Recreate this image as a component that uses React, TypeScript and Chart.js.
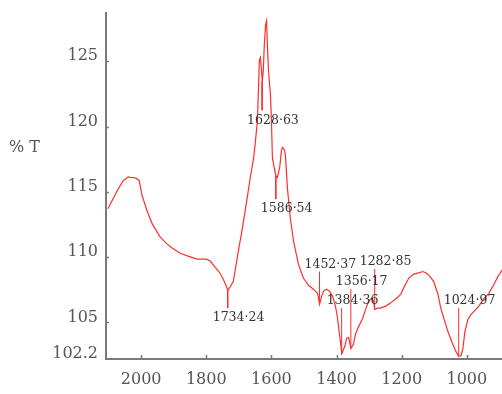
import React, { useEffect, useRef } from "react";
import { Chart, registerables } from "chart.js";

Chart.register(...registerables);

// IR spectrum (wavenumber, %T)
const wavenumbers = [
  2102, 2086, 2071, 2055, 2040, 2031, 2022, 2012, 2006, 1997, 1982, 1966, 1942, 1920, 1905, 1880, 1858, 1828, 1800, 1788,
  1772, 1757, 1748, 1738, 1734, 1726, 1717, 1708, 1699, 1692, 1683, 1674, 1665, 1655, 1649, 1643, 1640, 1637, 1634, 1631,
  1628, 1625, 1622, 1618, 1615, 1612, 1609, 1603, 1600, 1597, 1591, 1586, 1582, 1575, 1569, 1566, 1560, 1557, 1551, 1542,
  1532, 1517, 1502, 1486, 1474, 1465, 1458, 1452, 1446, 1440, 1431, 1422, 1412, 1403, 1397, 1388, 1384, 1375, 1369, 1363,
  1360, 1356, 1348, 1342, 1332, 1320, 1311, 1302, 1292, 1286, 1283, 1274, 1265, 1249, 1234, 1218, 1203, 1191, 1178, 1163,
  1148, 1135, 1126, 1114, 1102, 1089, 1080, 1068, 1058, 1046, 1034, 1025, 1018, 1012, 1006, 997, 988, 978, 963, 948,
  932, 917, 905, 889,
];
const transmittance = [
  113.7, 114.5, 115.2, 115.85, 116.15, 116.1, 116.1, 116.0, 115.85, 114.7, 113.55, 112.55, 111.55, 111.0, 110.7, 110.3, 110.1, 109.85, 109.85, 109.7,
  109.2, 108.75, 108.3, 107.75, 107.45, 107.75, 108.15, 109.5, 110.85, 111.8, 113.2, 114.6, 116.1, 117.55, 118.9, 120.5, 122.8, 125.1, 125.3, 124.5,
  123.5, 124.3, 126.2, 127.8, 128.1, 126.0, 124.3, 122.4, 120.5, 117.6, 116.8, 116.2, 116.1, 116.8, 118.2, 118.4, 118.2, 117.8, 115.3, 113.0,
  111.2, 109.45, 108.4, 107.85, 107.6, 107.4, 107.2, 106.4, 107.0, 107.4, 107.55, 107.4, 107.0, 106.2, 105.3, 103.5, 102.6, 103.15, 103.8, 103.85,
  103.5, 103.0, 103.35, 104.1, 104.7, 105.3, 106.0, 106.6, 106.85, 106.6, 106.0, 106.1, 106.1, 106.25, 106.5, 106.8, 107.15, 107.8, 108.4, 108.7,
  108.8, 108.9, 108.8, 108.55, 108.15, 107.2, 106.1, 105.1, 104.3, 103.5, 102.8, 102.4, 102.45, 103.0, 104.3, 105.2, 105.6, 105.85, 106.25, 106.8,
  107.25, 107.9, 108.5, 109.1,
];

// Peak annotations
const peakLabels = ["1734·24", "1628·63", "1586·54", "1452·37", "1282·85", "1356·17", "1384·36", "1024·97"];
const peakPositions = [1734.24, 1628.63, 1586.54, 1452.37, 1282.85, 1356.17, 1384.36, 1024.97];
const peakCurveValues = [107.45, 123.5, 116.2, 106.4, 106.0, 103.0, 102.6, 102.4];
const peakTipValues = [106.1, 121.25, 114.45, 108.9, 109.1, 107.55, 106.1, 106.1];

// Axes
const yTickValues = [102.2, 105, 110, 115, 120, 125];
const yTickLabels = ["102.2", "105", "110", "115", "120", "125"];
const xTickValues = [1000, 1200, 1400, 1600, 1800, 2000];
const yAxisTitle = "% T";

const AXIS_COLOR = "#7a7a7a";
const TEXT_COLOR = "#555";
const LINE_COLOR = "rgb(255,45,45)";

export default function App() {
  const canvasRef = useRef<HTMLCanvasElement | null>(null);

  useEffect(() => {
    const canvas = canvasRef.current;
    if (!canvas) return;

    const spectrum = wavenumbers.map((x, i) => ({ x, y: transmittance[i] }));
    const markerSets = peakPositions.map((p, i) => ({
      data: [
        { x: p, y: peakCurveValues[i] },
        { x: p, y: peakTipValues[i] },
      ],
      borderColor: LINE_COLOR,
      borderWidth: 1,
      pointRadius: 0,
      tension: 0,
    }));

    const decorPlugin = {
      id: "decor",
      afterDraw(chart: any) {
        const ctx = chart.ctx;
        const xs = chart.scales.x;
        const ys = chart.scales.y;
        const area = chart.chartArea;
        ctx.save();
        // inner tick marks
        ctx.strokeStyle = AXIS_COLOR;
        ctx.lineWidth = 1.5;
        yTickValues.forEach((v) => {
          if (v === yTickValues[0]) return;
          const py = Math.round(ys.getPixelForValue(v)) + 0.5;
          ctx.beginPath();
          ctx.moveTo(area.left, py);
          ctx.lineTo(area.left + 3, py);
          ctx.stroke();
        });
        xTickValues.forEach((v) => {
          const px = Math.round(xs.getPixelForValue(v)) + 0.5;
          ctx.beginPath();
          ctx.moveTo(px, area.bottom);
          ctx.lineTo(px, area.bottom - 4);
          ctx.stroke();
        });
        // y tick labels (sit slightly above their tick marks)
        ctx.fillStyle = TEXT_COLOR;
        ctx.font = "16px 'DejaVu Serif'";
        ctx.textAlign = "right";
        ctx.textBaseline = "middle";
        yTickValues.forEach((v, i) => {
          ctx.fillText(yTickLabels[i], area.left - 8, ys.getPixelForValue(v) - 5);
        });
        // peak labels
        ctx.fillStyle = "#333";
        ctx.font = "12.5px 'DejaVu Serif'";
        ctx.textAlign = "left";
        ctx.textBaseline = "middle";
        peakLabels.forEach((t, i) => {
          const px = xs.getPixelForValue(peakPositions[i]);
          const tipY = ys.getPixelForValue(peakTipValues[i]);
          const isDip = peakTipValues[i] > peakCurveValues[i];
          const ty = isDip ? tipY - 7 : tipY + 10;
          ctx.fillText(t, px - 15, ty);
        });
        // y axis title
        ctx.fillStyle = TEXT_COLOR;
        ctx.font = "16px 'DejaVu Serif'";
        ctx.fillText(yAxisTitle, 9, 148);
        ctx.restore();
      },
    };

    const chart = new Chart(canvas, {
      type: "line",
      data: {
        datasets: [
          {
            data: spectrum,
            borderColor: LINE_COLOR,
            borderWidth: 1.2,
            pointRadius: 0,
            tension: 0,
          },
          ...markerSets,
        ],
      },
      options: {
        animation: false,
        responsive: false,
        maintainAspectRatio: false,
        devicePixelRatio: 1,
        layout: { padding: { top: 13, right: 0, left: 0, bottom: 0 } },
        plugins: { legend: { display: false }, tooltip: { enabled: false } },
        scales: {
          x: {
            type: "linear",
            reverse: true,
            min: 892,
            max: 2108,
            afterFit: (s: any) => {
              s.height = 35;
            },
            afterBuildTicks: (s: any) => {
              s.ticks = xTickValues.map((v) => ({ value: v }));
            },
            ticks: {
              color: TEXT_COLOR,
              font: { family: "'DejaVu Serif'", size: 16 },
              padding: 11,
              maxRotation: 0,
              autoSkip: false,
              callback: (v: any) => String(v),
            },
            grid: { display: false, drawTicks: false },
            border: { display: true, color: AXIS_COLOR, width: 2 },
          },
          y: {
            type: "linear",
            min: 102.2,
            max: 128.7,
            afterFit: (s: any) => {
              s.width = 106;
            },
            afterBuildTicks: (s: any) => {
              s.ticks = yTickValues.map((v) => ({ value: v }));
            },
            ticks: { display: false },
            grid: { display: false, drawTicks: false },
            border: { display: true, color: AXIS_COLOR, width: 2 },
          },
        },
      },
      plugins: [decorPlugin],
    });

    return () => chart.destroy();
  }, []);

  return (
    <div style={{ position: "absolute", left: 0, top: 0, width: 502, height: 394, background: "#fff" }}>
      <canvas ref={canvasRef} width={502} height={394} style={{ display: "block" }} />
    </div>
  );
}
